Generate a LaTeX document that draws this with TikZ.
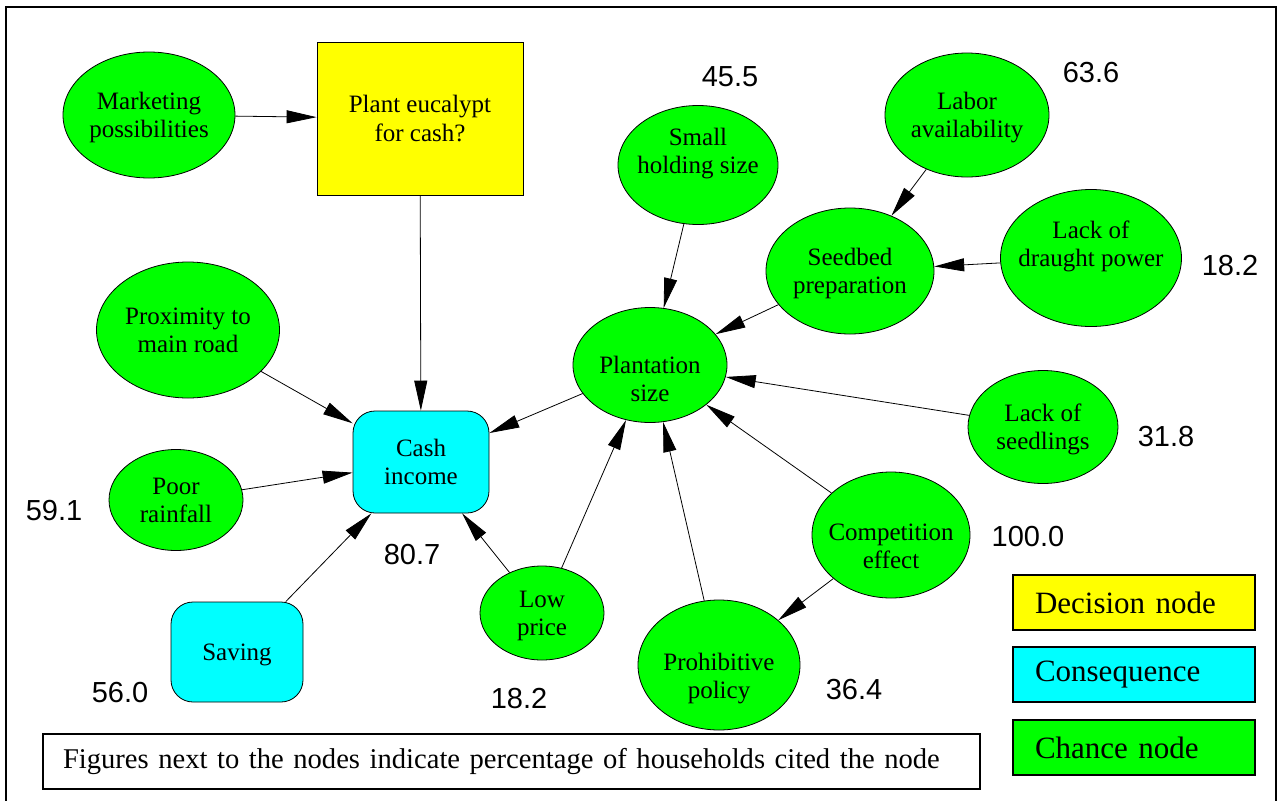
\documentclass[tikz,border=0pt]{standalone}
\usepackage{fontspec}
\setmainfont{Liberation Serif}
\newfontfamily\numfont{Liberation Sans}
\usetikzlibrary{arrows.meta,shapes.geometric}
\definecolor{cgreen}{HTML}{00FF00}
\definecolor{cyellow}{HTML}{FFFF00}
\definecolor{ccyan}{HTML}{00FFFF}
\newcommand\ndfont{\fontsize{25}{28.5}\selectfont}
\newcommand\nmfont{\numfont\fontsize{29}{32}\selectfont}
\newcommand\lgfont{\fontsize{31}{34}\selectfont}
\newcommand\ntfont{\fontsize{28.6}{32}\selectfont}
\begin{document}
\begin{tikzpicture}[x=1pt,y=-1pt,
  chance/.style={ellipse, draw=black, fill=cgreen, line width=0.8pt, inner sep=-30pt, align=center, font=\ndfont, text height=50pt, text depth=5pt},
  tup/.style={text height=22pt, text depth=5pt},
  decision/.style={rectangle, draw=black, fill=cyellow, line width=0.8pt, inner sep=0pt, align=center, font=\ndfont, text height=50pt, text depth=5pt},
  conseq/.style={rectangle, rounded corners=22pt, draw=black, fill=ccyan, line width=0.8pt, inner sep=0pt, align=center, font=\ndfont, text height=50pt, text depth=5pt},
  arr/.style={-{Triangle[length=30pt,width=13pt]}, line width=0.8pt},
  num/.style={inner sep=0pt, font=\nmfont},
  legbox/.style={rectangle, draw=black, line width=1.6pt, minimum width=242, minimum height=55, text width=198, inner xsep=22pt, inner ysep=0pt, align=left, font=\lgfont},
  notebox/.style={rectangle, draw=black, line width=1.6pt, minimum width=937, minimum height=55, text width=897, inner xsep=20pt, inner ysep=0pt, align=left, font=\ntfont}
]
\useasboundingbox (0,0) rectangle (1278,801);
\fill[white] (0,0) rectangle (1278,801);
% frame
\coordinate (fbl) at (6,801);
\coordinate (ftl) at (6,7);
\coordinate (ftr) at (1276,7);
\coordinate (fbr) at (1276,801);
\draw[line width=2pt] (fbl) -- (ftl) -- (ftr) -- (fbr);

% nodes
\node[chance, minimum width=172, minimum height=126] (mkt) at (149,115) {Marketing\\possibilities};
\node[decision, minimum width=206, minimum height=153] (plant) at (420,118.5) {Plant eucalypt\\for cash?};
\node[chance, tup, minimum width=160, minimum height=119] (small) at (698,165) {Small\\holding size};
\node[chance, minimum width=164, minimum height=124] (labor) at (967,115) {Labor\\availability};
\node[chance, minimum width=168, minimum height=126] (seed) at (850,271) {Seedbed\\preparation};
\node[chance, tup, minimum width=181, minimum height=137] (draught) at (1091,258) {Lack of\\draught power};
\node[chance, text height=78pt, text depth=5pt, minimum width=154, minimum height=115] (plantation) at (650,365) {Plantation\\size};
\node[chance, minimum width=183, minimum height=136] (prox) at (188,330) {Proximity to\\main road};
\node[conseq, minimum width=136, minimum height=102] (cash) at (421,462) {Cash\\income};
\node[chance, minimum width=150, minimum height=113] (seedl) at (1043,427) {Lack of\\seedlings};
\node[chance, minimum width=134, minimum height=101] (rain) at (176,500) {Poor\\rainfall};
\node[chance, text height=72pt, text depth=5pt, minimum width=158, minimum height=126] (comp) at (891,535) {Competition\\effect};
\node[conseq, text height=20pt, text depth=3.5pt, minimum width=132, minimum height=100] (saving) at (237,652) {Saving};
\node[chance, minimum width=124, minimum height=94] (low) at (542,613) {Low\\price};
\node[chance, text height=72pt, text depth=5pt, minimum width=162, minimum height=130] (prohib) at (719,665) {Prohibitive\\policy};

% numbers
\node[num] (n1) at (730,77) {45.5};
\node[num] (n2) at (1091,73) {63.6};
\node[num] (n3) at (1230,266) {18.2};
\node[num] (n4) at (1166,437) {31.8};
\node[num] (n5) at (1028,537) {100.0};
\node[num] (n6) at (854,690) {36.4};
\node[num] (n7) at (519,699) {18.2};
\node[num] (n8) at (412,555) {80.7};
\node[num] (n9) at (54,511) {59.1};
\node[num] (n10) at (120,693) {56.0};

% legend
\node[legbox, fill=cyellow] (legd) at (1134,602.5) {Decision node};
\node[legbox, fill=ccyan] (legc) at (1134,674.5) {Consequence};
\node[legbox, fill=cgreen] (legn) at (1134,747.5) {Chance node};

% note
\node[notebox] (note) at (511.5,761.5) {\mbox{Figures next to the nodes indicate percentage of households cited the node}};

% edges
\draw[arr] (mkt) -- (plant);
\draw[arr] (plant) -- (cash);
\draw[arr] (prox) -- (cash);
\draw[arr] (rain) -- (cash);
\draw[arr] (saving) -- (cash);
\draw[arr] (low) -- (cash);
\draw[arr] (plantation) -- (cash);
\draw[arr] (low) -- (plantation);
\draw[arr] (prohib) -- (plantation);
\draw[arr] (comp) -- (plantation);
\draw[arr] (comp) -- (prohib);
\draw[arr] (seedl) -- (plantation);
\draw[arr] (seed) -- (plantation);
\draw[arr] (small) -- (plantation);
\draw[arr] (labor) -- (seed);
\draw[arr] (draught) -- (seed);
\end{tikzpicture}
\end{document}
